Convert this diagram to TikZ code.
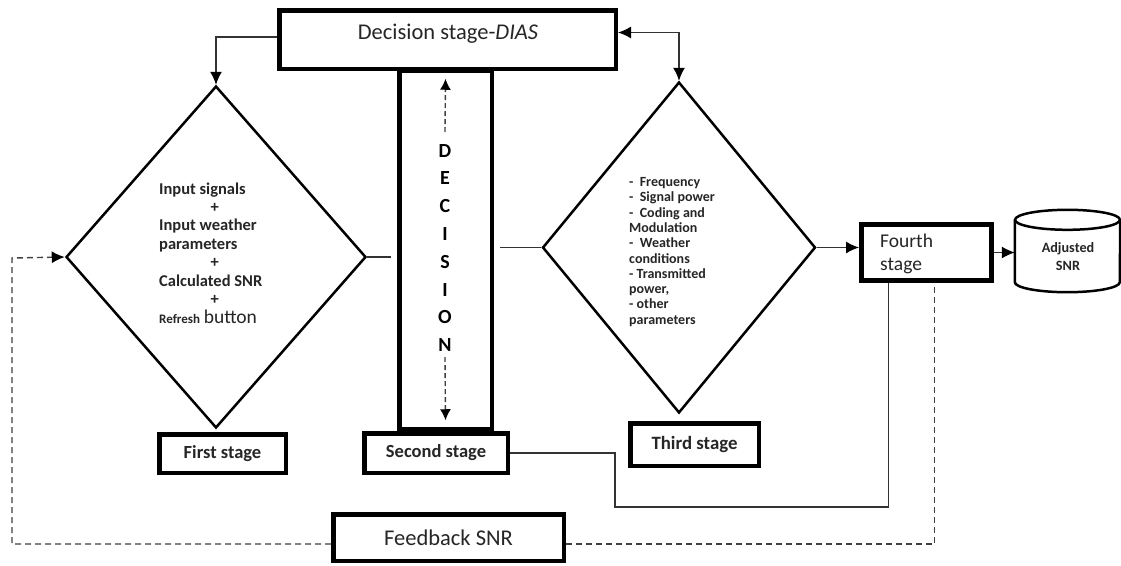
\documentclass[tikz,border=0pt]{standalone}
\usepackage{fontspec}
\setmainfont{Carlito}
\usetikzlibrary{arrows.meta,shapes.geometric,calc}
\newcommand\myfs[2]{\fontsize{#1}{#2}\selectfont}
\begin{document}
\begin{tikzpicture}[x=1pt,y=-1pt,
  box/.style={draw, line width=4.5pt, fill=white, inner sep=0pt, text=black!85},
  dia/.style={diamond, draw, line width=2.5pt, inner sep=0pt, aspect=1},
  conn/.style={line width=1.3pt, draw=black!80},
  fbk/.style={line width=1.4pt, draw=black!75, dash pattern=on 6pt off 4pt},
  tip/.style={-{Latex[length=13pt,width=12pt,color=black]}},
  txt/.style={inner sep=0pt, text=black!85},
]
\fill[white] (0,0) rectangle (1121,565);
\useasboundingbox (0,0) rectangle (1121,565);

% pillar
\node[draw, line width=4.5pt, minimum width=92.5, minimum height=358, inner sep=0pt] (pillar) at (445.5,250) {};

% boxes
\node[box, minimum width=336.5, minimum height=58.5] (dec) at (447.5,39.5) {};
\node[txt, font=\myfs{22.5}{27}] (dectxt) at (448,34) {Decision stage-\textit{DIAS}};

\node[box, minimum width=126.5, minimum height=38.5, font=\bfseries\myfs{18.5}{22}] (first) at (222.5,453.5) {First stage};
\node[box, minimum width=143.5, minimum height=39.5, font=\bfseries\myfs{18.5}{22}] (second) at (436,453) {Second stage};
\node[box, minimum width=128.5, minimum height=42.5, font=\bfseries\myfs{18.8}{22}] (third) at (694.5,444.5) {Third stage};
\node[box, minimum width=230.5, minimum height=46.5, font=\myfs{22.5}{27}] (fb) at (448.5,537.5) {Feedback SNR};
\node[box, line width=5pt, minimum width=130, minimum height=56] (fourth) at (926.5,252.5) {};
\node[txt, anchor=west, align=left, font=\myfs{19.5}{23}] (ftxt) at (880,254) {Fourth\\stage};

% diamonds
\node[dia, minimum width=300, minimum height=342] (ldia) at (216,257) {};
\node[dia, minimum width=273, minimum height=331] (rdia) at (679,247.5) {};

% cylinder
\node[minimum width=105, minimum height=82, inner sep=0pt] (adj) at (1067.5,251) {};
\draw[line width=2.5pt] ([yshift=-10pt]adj.north west) -- ([yshift=10pt]adj.south west)
  arc[start angle=180, end angle=360, x radius=52.5pt, y radius=10pt] -- ([yshift=-10pt]adj.north east);
\draw[line width=2.5pt] ([yshift=-10pt]adj.north) ellipse [x radius=52.5pt, y radius=10pt];
\node[txt, align=center, font=\bfseries\myfs{14.2}{18}] (adjtxt) at (1068,257) {Adjusted\\SNR};

% diamond texts
\node[txt, anchor=base west, font=\bfseries\myfs{16.5}{18.4}] (ltxt) at (159,194) {\begin{tabular}[t]{@{}l@{}}Input signals\\ \multicolumn{1}{@{}c@{}}{\hspace*{8pt}+}\\ Input weather\\ parameters\\ \multicolumn{1}{@{}c@{}}{\hspace*{8pt}+}\\ Calculated SNR\\ \multicolumn{1}{@{}c@{}}{\hspace*{8pt}+}\\ {\myfs{13}{18.4}Refresh} {\mdseries\myfs{19.5}{18.4}button}\end{tabular}};
\node[txt, anchor=base west, font=\bfseries\myfs{14}{15.3}] (rtxt) at (629,186.5) {\begin{tabular}[t]{@{}l@{}}-~~Frequency\\ -~~Signal power\\ -~~Coding and\\ Modulation\\ -~~Weather\\ conditions\\ - Transmitted\\ power,\\ - other\\ parameters\end{tabular}};

% DECISION word
\node[txt, align=center, text=black, font=\bfseries\myfs{20}{27.8}] (decw) at (445,248) {D\\E\\C\\I\\S\\I\\O\\N};
\coordinate (dtop) at (445,132);
\coordinate (dbot) at (445,357);
\draw[fbk, dash pattern=on 5pt off 3pt, -{Latex[length=11pt,width=11pt,color=black]}] (dtop) -- ([yshift=-10pt]pillar.north);
\draw[fbk, dash pattern=on 5pt off 3pt, -{Latex[length=11pt,width=11pt,color=black]}] (dbot) -- ([yshift=11pt]pillar.south);

% connectors
\draw[conn, tip] ([yshift=2.5pt]dec.west) -| (ldia.north);
\draw[conn, {Latex[length=13pt,width=12pt,color=black]}-{Latex[length=13pt,width=12pt,color=black]}] ([yshift=7pt]dec.east) -| (rdia.north);
\draw[conn, shorten >=6pt] (ldia.east) -- (ldia.east -| pillar.west);
\draw[conn, shorten <=6pt] (rdia.west -| pillar.east) -- (rdia.west);
\draw[conn, tip] (rdia.east) -- (rdia.east -| fourth.west);
\draw[conn, tip] (fourth.east) -- (fourth.east -| adj.west);

\coordinate (c1) at (615,507);
\draw[conn, line width=1.1pt] (second.east) -| (c1) -| ($(fourth.south west)!0.22!(fourth.south east)$);

\coordinate (c2) at (12,258);
\draw[fbk, tip] ([yshift=-6.5pt]fb.west) -| (c2) -- (ldia.west);
\draw[fbk] ([yshift=-6.5pt]fb.east) -| ($(fourth.south west)!0.56!(fourth.south east)$);
\end{tikzpicture}
\end{document}
